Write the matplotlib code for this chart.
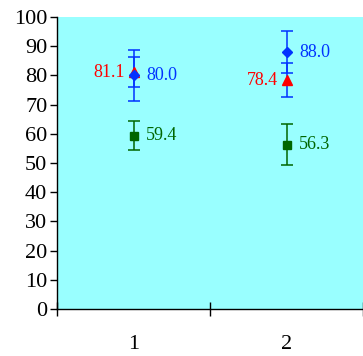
import matplotlib.pyplot as plt

# Valores por grupo (1 e 2) para as três séries
grupos = [1, 2]
rotulos_x = ['1', '2']
azul = [80.0, 88.0]
azul_erro = [8.7, 7.3]
vermelho = [81.1, 78.4]
vermelho_erro = [5.1, 5.7]
verde = [59.4, 56.3]
verde_erro = [5.0, 6.9]

cor_azul = '#0033ff'
cor_vermelho = '#ff0000'
cor_verde = '#006600'

plt.rcParams['font.family'] = ['Liberation Serif', 'DejaVu Serif']

fig = plt.figure(figsize=(3.63, 3.56), dpi=100)
ax = fig.add_axes([57 / 363, 1 - 309 / 356, 306 / 363, 292 / 356])
ax.set_facecolor('#99ffff')

# barras de erro (as da série vermelha também em azul)
ax.errorbar(grupos, azul, yerr=azul_erro, fmt='none', ecolor=cor_azul,
            elinewidth=1.1, capsize=4, capthick=1.1, zorder=2)
ax.errorbar(grupos, vermelho, yerr=vermelho_erro, fmt='none', ecolor=cor_azul,
            elinewidth=1.1, capsize=4, capthick=1.1, zorder=2)
ax.errorbar(grupos, verde, yerr=verde_erro, fmt='none', ecolor=cor_verde,
            elinewidth=1.1, capsize=4, capthick=1.1, zorder=2)

# marcadores
ax.plot(grupos, vermelho, linestyle='none', marker='^', markersize=7,
        color=cor_vermelho, zorder=3)
ax.plot(grupos, azul, linestyle='none', marker='D', markersize=5.5,
        color=cor_azul, zorder=4)
ax.plot(grupos, verde, linestyle='none', marker='s', markersize=6,
        color=cor_verde, zorder=3)

# rótulos dos valores
for x, v in zip(grupos, azul):
    ax.annotate(f'{v:.1f}', (x, v), xytext=(9, 0), textcoords='offset points',
                ha='left', va='center', color=cor_azul, fontsize=13)
for x, v in zip(grupos, vermelho):
    ax.annotate(f'{v:.1f}', (x, v), xytext=(-6, 0), textcoords='offset points',
                ha='right', va='center', color=cor_vermelho, fontsize=13)
for x, v in zip(grupos, verde):
    ax.annotate(f'{v:.1f}', (x, v), xytext=(9, 0), textcoords='offset points',
                ha='left', va='center', color=cor_verde, fontsize=13)

ax.set_xlim(0.5, 2.5)
ax.set_ylim(0, 100)
ax.set_yticks(range(0, 101, 10))
ax.tick_params(axis='y', direction='out', length=5, width=1, labelsize=16, pad=2)

ax.set_xticks(grupos)
ax.set_xticklabels(rotulos_x)
ax.tick_params(axis='x', which='major', length=0, labelsize=16, pad=19)
ax.set_xticks([0.5, 1.5, 2.5], minor=True)
ax.tick_params(axis='x', which='minor', direction='inout', length=10, width=1)

for lado in ['top', 'right']:
    ax.spines[lado].set_visible(False)
for lado in ['left', 'bottom']:
    ax.spines[lado].set_linewidth(1)

fig.savefig('out.png', dpi=100)
